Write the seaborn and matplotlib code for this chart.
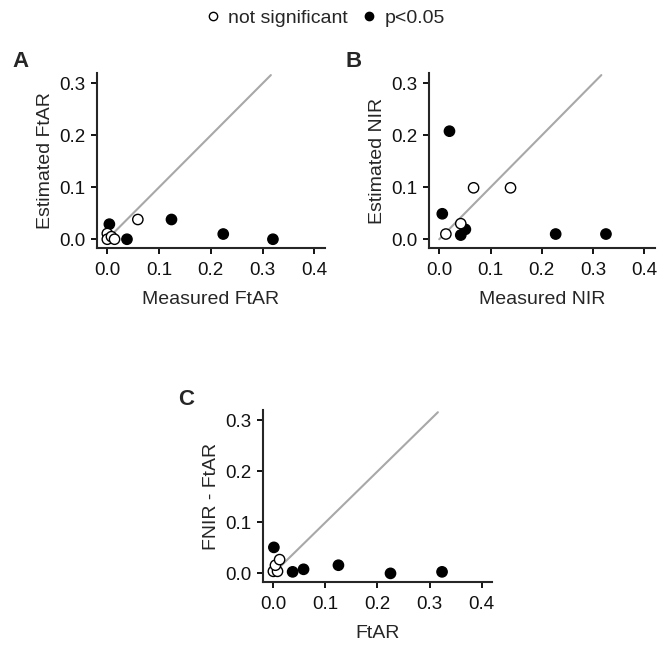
import pandas as pd
import matplotlib.pyplot as plt
import seaborn as sns
from matplotlib.lines import Line2D

sns.set_style("ticks")
plt.rcParams["font.family"] = ["Liberation Sans", "DejaVu Sans"]

# Panel A: measured vs estimated FtAR
a_x = [0.004, 0.038, 0.124, 0.224, 0.320, 0.000, 0.000, 0.008, 0.014, 0.059]
a_y = [0.029, 0.000, 0.038, 0.010, 0.000, 0.011, 0.000, 0.005, 0.000, 0.038]
a_sig = ["p<0.05"] * 5 + ["not significant"] * 5

# Panel B: measured vs estimated NIR
b_x = [0.006, 0.020, 0.042, 0.051, 0.227, 0.325, 0.013, 0.042, 0.067, 0.139]
b_y = [0.049, 0.208, 0.008, 0.019, 0.010, 0.010, 0.010, 0.030, 0.099, 0.099]
b_sig = ["p<0.05"] * 6 + ["not significant"] * 4

# Panel C: FtAR vs FNIR - FtAR
c_x = [0.001, 0.037, 0.058, 0.125, 0.225, 0.324, 0.000, 0.008, 0.004, 0.012]
c_y = [0.051, 0.003, 0.008, 0.016, 0.000, 0.003, 0.004, 0.004, 0.016, 0.027]
c_sig = ["p<0.05"] * 6 + ["not significant"] * 4

identity = [0.0, 0.316]
ticks = [0.0, 0.1, 0.2, 0.3, 0.4]
yticks = [0.0, 0.1, 0.2, 0.3]
palette = {"not significant": "white", "p<0.05": "black"}

fig = plt.figure(figsize=(6.64, 6.46), dpi=100)
ax_a = fig.add_axes([0.146, 0.616, 0.343, 0.271])
ax_b = fig.add_axes([0.646, 0.616, 0.340, 0.271])
ax_c = fig.add_axes([0.396, 0.099, 0.345, 0.266])

panels = [
    (ax_a, a_x, a_y, a_sig, "Measured FtAR", "Estimated FtAR", "A"),
    (ax_b, b_x, b_y, b_sig, "Measured NIR", "Estimated NIR", "B"),
    (ax_c, c_x, c_y, c_sig, "FtAR", "FNIR - FtAR", "C"),
]

for ax, xs, ys, sig, xlab, ylab, letter in panels:
    df = pd.DataFrame({"x": xs, "y": ys, "sig": sig})
    ax.plot(identity, identity, color="#a8a8a8", lw=1.5, zorder=1)
    sns.scatterplot(data=df, x="x", y="y", hue="sig", palette=palette,
                    edgecolor="black", linewidth=1.0, s=55, legend=False,
                    ax=ax, zorder=3)
    ax.set_xlim(-0.02, 0.42)
    ax.set_ylim(-0.017, 0.32)
    ax.set_xticks(ticks)
    ax.set_yticks(yticks)
    ax.set_xticklabels([f"{t:.1f}" for t in ticks])
    ax.set_yticklabels([f"{t:.1f}" for t in yticks])
    ax.set_xlabel(xlab, fontsize=14, labelpad=9)
    ax.set_ylabel(ylab, fontsize=14, labelpad=4)
    ax.tick_params(labelsize=13.5, width=1.3, length=4, color="black",
                   labelcolor="#111111")
    ax.tick_params(axis="x", pad=6)
    ax.tick_params(axis="y", pad=4)
    for side in ["left", "bottom"]:
        ax.spines[side].set_linewidth(1.5)
    sns.despine(ax=ax)
    ax.text(-0.37, 1.065, letter, transform=ax.transAxes, fontsize=16,
            fontweight="bold", va="center")

handles = [
    Line2D([], [], marker="o", ls="", markerfacecolor="white",
           markeredgecolor="black", markersize=6, label="not significant"),
    Line2D([], [], marker="o", ls="", markerfacecolor="black",
           markeredgecolor="black", markersize=6, label="p<0.05"),
]
fig.legend(handles=handles, loc="center", bbox_to_anchor=(0.488, 0.972),
           ncol=2, frameon=False, fontsize=14, handletextpad=0.3,
           columnspacing=0.6, handlelength=1.0)

fig.savefig("out.png", dpi=100)
